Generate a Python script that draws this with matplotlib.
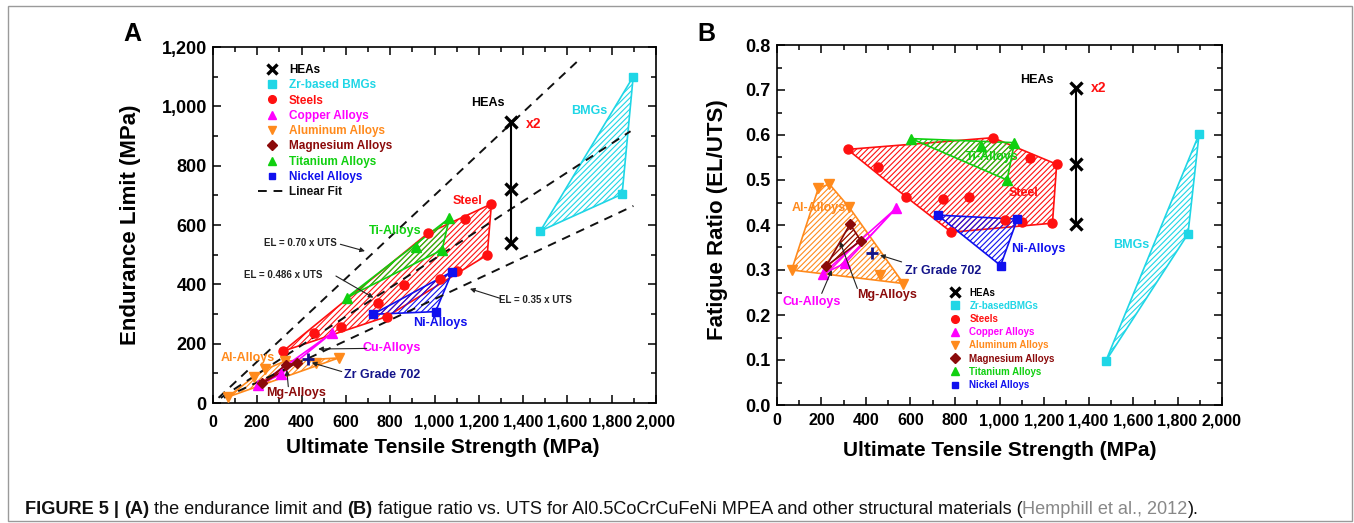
import matplotlib
matplotlib.use("Agg")
import matplotlib.pyplot as plt
from matplotlib.patches import Rectangle
from matplotlib.ticker import MultipleLocator, FuncFormatter

plt.rcParams['font.family'] = ['Liberation Sans', 'DejaVu Sans']
plt.rcParams['font.weight'] = 'bold'
plt.rcParams['hatch.linewidth'] = 0.8

# ---------------- data ----------------
steel_uts = [317, 454, 579, 744, 784, 861, 1025, 1100, 1238, 970, 1136, 1257]
steel_el = [175, 235, 257, 338, 291, 398, 418, 446, 499, 572, 619, 671]
steel_ratio = [0.568, 0.530, 0.463, 0.458, 0.384, 0.463, 0.412, 0.406, 0.404, 0.594, 0.548, 0.535]

ni_uts = [722, 1005, 1080]
ni_el = [299, 308, 443]
ni_ratio = [0.422, 0.310, 0.413]

ti_uts = [603, 915, 1034, 1067]
ti_el = [355, 525, 516, 623]
ti_ratio = [0.592, 0.575, 0.500, 0.583]

cu_uts = [205, 306, 535]
cu_el = [60, 97, 235]
cu_ratio = [0.291, 0.315, 0.437]

al_uts = [66, 186, 235, 325, 463, 568]
al_el = [20, 89, 113, 141, 134, 152]
al_ratio = [0.300, 0.482, 0.491, 0.439, 0.290, 0.270]

mg_uts = [222, 328, 377]
mg_el = [66, 128, 135]
mg_ratio = [0.309, 0.402, 0.365]

bmg_uts = [1478, 1847, 1897]
bmg_el = [580, 704, 1100]
bmg_ratio = [0.098, 0.380, 0.602]

hea_uts = [1344, 1344, 1344]
hea_el = [946, 720, 540]
hea_ratio = [0.704, 0.536, 0.402]

zr702_uts = [428]
zr702_el = [148]
zr702_ratio = [0.338]

fit_slopes = [0.70, 0.486, 0.35]
fit_uts_start = [25, 35, 50]
fit_uts_end = [1650, 1885, 1898]
fit_labels = ['EL = 0.70 x UTS', 'EL = 0.486 x UTS', 'EL = 0.35 x UTS']

legend_a = ['HEAs', 'Zr-based BMGs', 'Steels', 'Copper Alloys', 'Aluminum Alloys',
            'Magnesium Alloys', 'Titanium Alloys', 'Nickel Alloys', 'Linear Fit']
legend_b = ['HEAs', 'Zr-basedBMGs', 'Steels', 'Copper Alloys', 'Aluminum Alloys',
            'Magnesium Alloys', 'Titanium Alloys', 'Nickel Alloys']

C_HEA = 'black'
C_BMG = '#1fd6e6'
C_STEEL = '#ff1010'
C_CU = '#ff00ff'
C_AL = '#ff8a1c'
C_MG = '#8b0a0a'
C_TI = '#10d010'
C_NI = '#1010ee'
C_ZR = '#14148a'


def hull(xs, ys):
    pts = sorted(set(zip(xs, ys)))
    if len(pts) < 3:
        return [p[0] for p in pts], [p[1] for p in pts]

    def cross(o, a, b):
        return (a[0] - o[0]) * (b[1] - o[1]) - (a[1] - o[1]) * (b[0] - o[0])

    lower, upper = [], []
    for p in pts:
        while len(lower) >= 2 and cross(lower[-2], lower[-1], p) <= 0:
            lower.pop()
        lower.append(p)
    for p in reversed(pts):
        while len(upper) >= 2 and cross(upper[-2], upper[-1], p) <= 0:
            upper.pop()
        upper.append(p)
    h = lower[:-1] + upper[:-1]
    return [p[0] for p in h], [p[1] for p in h]


def region(ax, xs, ys, color):
    hx, hy = hull(xs, ys)
    ax.fill(hx, hy, facecolor='none', edgecolor=color, hatch='//////', lw=1.2, zorder=2)


fig = plt.figure(figsize=(13.54, 5.23), dpi=100)
axA = fig.add_axes([213 / 1354, 1 - 403 / 523, 443 / 1354, 356 / 523])
axB = fig.add_axes([777 / 1354, 1 - 405 / 523, 445 / 1354, 360 / 523])

fmt_comma = FuncFormatter(lambda v, p: f"{int(round(v)):,}")


def style(ax):
    ax.tick_params(which='both', direction='in', top=True, right=True, width=1.1)
    ax.tick_params(which='major', length=6)
    ax.tick_params(which='minor', length=3.5)
    ax.tick_params(axis='x', labelsize=11.5)
    ax.tick_params(axis='y', labelsize=13, pad=4.5)
    for s in ax.spines.values():
        s.set_linewidth(1.2)
    ax.xaxis.set_major_locator(MultipleLocator(200))
    ax.xaxis.set_minor_locator(MultipleLocator(100))
    ax.xaxis.set_major_formatter(fmt_comma)
    ax.set_xlim(0, 2000)


def marks(ax, yvals, ms):
    h = []
    h.append(ax.plot(hea_uts, yvals['hea'], color=C_HEA, marker='x', ms=ms * 1.3, mew=2.4, lw=1.5, zorder=5)[0])
    h.append(ax.plot(bmg_uts, yvals['bmg'], ls='none', color=C_BMG, marker='s', ms=ms * 0.95, zorder=5)[0])
    h.append(ax.plot(steel_uts, yvals['steel'], ls='none', color=C_STEEL, marker='o', ms=ms, zorder=5)[0])
    h.append(ax.plot(cu_uts, yvals['cu'], ls='none', color=C_CU, marker='^', ms=ms, zorder=5)[0])
    h.append(ax.plot(al_uts, yvals['al'], ls='none', color=C_AL, marker='v', ms=ms, zorder=5)[0])
    h.append(ax.plot(mg_uts, yvals['mg'], ls='none', color=C_MG, marker='D', ms=ms * 0.85, zorder=5)[0])
    h.append(ax.plot(ti_uts, yvals['ti'], ls='none', color=C_TI, marker='^', ms=ms, zorder=5)[0])
    h.append(ax.plot(ni_uts, yvals['ni'], ls='none', color=C_NI, marker='s', ms=ms * 0.9, zorder=5)[0])
    ax.plot(zr702_uts, yvals['zr'], ls='none', color=C_ZR, marker='+', ms=ms * 1.3, mew=2, zorder=5)
    return h


def txt(ax, x, y, s, color, size=9):
    ax.text(x, y, s, color=color, fontsize=size, fontweight='bold', ha='center', va='center', zorder=6)


def arrow(ax, start, end):
    ax.annotate('', xy=end, xytext=start,
                arrowprops=dict(arrowstyle='-|>', color='#222222', lw=0.8, mutation_scale=7,
                                shrinkA=0, shrinkB=0), zorder=6)


def color_legend(leg, handles):
    for t, h in zip(leg.get_texts(), handles):
        t.set_color(h.get_color())
        t.set_fontweight('bold')
    for lh, h in zip(leg.legend_handles, handles):
        if h.get_marker() not in (None, 'None', 'none', ''):
            lh.set_linestyle('none')


# ---------------- Panel A ----------------
style(axA)
axA.set_ylim(0, 1200)
axA.yaxis.set_major_locator(MultipleLocator(200))
axA.yaxis.set_minor_locator(MultipleLocator(100))
axA.yaxis.set_major_formatter(fmt_comma)

fit_handle = None
for k, x0, x1 in zip(fit_slopes, fit_uts_start, fit_uts_end):
    fit_handle = axA.plot([x0, x1], [k * x0, k * x1], color='#111111', lw=1.4,
                          ls=(0, (4.5, 3.5)), zorder=3)[0]

region(axA, steel_uts, steel_el, C_STEEL)
region(axA, ti_uts, ti_el, C_TI)
region(axA, ni_uts, ni_el, C_NI)
region(axA, bmg_uts, bmg_el, C_BMG)
region(axA, al_uts, al_el, C_AL)
region(axA, cu_uts, cu_el, C_CU)
region(axA, mg_uts, mg_el, C_MG)

hA = marks(axA, dict(hea=hea_el, bmg=bmg_el, steel=steel_el, cu=cu_el, al=al_el, mg=mg_el,
                     ti=ti_el, ni=ni_el, zr=zr702_el), 6.5)

txt(axA, 1242, 1012, 'HEAs', 'black')
txt(axA, 1449, 940, 'x2', C_STEEL, 10)
txt(axA, 1698, 985, 'BMGs', C_BMG)
txt(axA, 1151, 682, 'Steel', C_STEEL)
txt(axA, 822, 580, 'Ti-Alloys', C_TI)
txt(axA, 1028, 271, 'Ni-Alloys', C_NI)
txt(axA, 807, 184, 'Cu-Alloys', C_CU)
txt(axA, 159, 153, 'Al-Alloys', C_AL)
txt(axA, 762, 94, 'Zr Grade 702', C_ZR)
txt(axA, 375, 33, 'Mg-Alloys', C_MG)
txt(axA, 393, 538, fit_labels[0], '#222222', 7)
txt(axA, 317, 431, fit_labels[1], '#222222', 7)
txt(axA, 1454, 347, fit_labels[2], '#222222', 7)

arrow(axA, (575, 535), (686, 512))
arrow(axA, (555, 428), (724, 355))
arrow(axA, (1300, 352), (1160, 385))
arrow(axA, (694, 184), (475, 182))
arrow(axA, (581, 106), (446, 136))
arrow(axA, (340, 55), (333, 111))

handlesA = hA + [fit_handle]
legA = axA.legend(handlesA, legend_a, loc='upper left', bbox_to_anchor=(0.1016, 0.9525),
                  frameon=False, fontsize=8.5, handlelength=2.45, handletextpad=0.17,
                  labelspacing=0.28, borderpad=0, borderaxespad=0, markerscale=0.85)
color_legend(legA, handlesA)

axA.set_xlabel('Ultimate Tensile Strength (MPa)', fontsize=15, fontweight='bold')
axA.xaxis.set_label_coords(0.519, -0.126)
axA.xaxis.label.set_va('center')
axA.set_ylabel('Endurance Limit (MPa)', fontsize=16, fontweight='bold')
axA.yaxis.set_label_coords(-0.187, 0.5)
axA.yaxis.label.set_va('center')
axA.tick_params(axis='x', pad=8.5)

# ---------------- Panel B ----------------
style(axB)
axB.set_ylim(0, 0.8)
axB.yaxis.set_major_locator(MultipleLocator(0.1))
axB.yaxis.set_minor_locator(MultipleLocator(0.05))
axB.yaxis.set_major_formatter(FuncFormatter(lambda v, p: f"{v:.1f}"))
axB.tick_params(axis='x', pad=6)

region(axB, steel_uts, steel_ratio, C_STEEL)
region(axB, ti_uts, ti_ratio, C_TI)
region(axB, ni_uts, ni_ratio, C_NI)
region(axB, bmg_uts, bmg_ratio, C_BMG)
region(axB, al_uts, al_ratio, C_AL)
region(axB, cu_uts, cu_ratio, C_CU)
region(axB, mg_uts, mg_ratio, C_MG)

hB = marks(axB, dict(hea=hea_ratio, bmg=bmg_ratio, steel=steel_ratio, cu=cu_ratio, al=al_ratio,
                     mg=mg_ratio, ti=ti_ratio, ni=ni_ratio, zr=zr702_ratio), 6.5)

txt(axB, 1170, 0.722, 'HEAs', 'black')
txt(axB, 1444, 0.704, 'x2', C_STEEL, 10)
txt(axB, 965, 0.552, 'Ti-Alloys', C_TI)
txt(axB, 1110, 0.472, 'Steel', C_STEEL)
txt(axB, 186, 0.438, 'Al-Alloys', C_AL)
txt(axB, 1174, 0.346, 'Ni-Alloys', C_NI)
txt(axB, 1594, 0.356, 'BMGs', C_BMG)
txt(axB, 745, 0.298, 'Zr Grade 702', C_ZR)
txt(axB, 493, 0.244, 'Mg-Alloys', C_MG)
txt(axB, 156, 0.230, 'Cu-Alloys', C_CU)

arrow(axB, (560, 0.318), (463, 0.333))
arrow(axB, (361, 0.259), (283, 0.363))
arrow(axB, (201, 0.248), (246, 0.300))

legB = axB.legend(hB, legend_b, loc='upper left', bbox_to_anchor=(0.382, 0.326),
                  frameon=False, fontsize=7, handlelength=1.6, handletextpad=0.7,
                  labelspacing=0.33, borderpad=0, borderaxespad=0, markerscale=0.85)
color_legend(legB, hB)

axB.set_xlabel('Ultimate Tensile Strength (MPa)', fontsize=15, fontweight='bold')
axB.xaxis.set_label_coords(0.501, -0.125)
axB.xaxis.label.set_va('center')
axB.set_ylabel('Fatigue Ratio (EL/UTS)', fontsize=16, fontweight='bold')
axB.yaxis.set_label_coords(-0.133, 0.514)
axB.yaxis.label.set_va('center')

# panel letters
fig.text(132 / 1354, 1 - 34 / 523, 'A', fontsize=18, fontweight='bold', ha='center', va='center')
fig.text(706 / 1354, 1 - 34 / 523, 'B', fontsize=18, fontweight='bold', ha='center', va='center')

# frame
fig.patches.append(Rectangle((8 / 1354, 1 - 521 / 523), 1344 / 1354, 515 / 523, transform=fig.transFigure,
                             fill=False, edgecolor='#9a9a9a', lw=1.0))

# caption
pieces = [("FIGURE 5 | ", 'bold', '#111111'), ("(A)", 'bold', '#111111'),
          (" the endurance limit and ", 'normal', '#111111'), ("(B)", 'bold', '#111111'),
          (" fatigue ratio vs. UTS for Al0.5CoCrCuFeNi MPEA and other structural materials (", 'normal', '#111111'),
          ("Hemphill et al., 2012", 'normal', '#888888'), (").", 'normal', '#111111')]
renderer = fig.canvas.get_renderer()
target_w = 1172.0
size = 11.0
for _ in range(2):
    arts = []
    x = 25.0
    for s, w, c in pieces:
        t = fig.text(x / 1354, 1 - 514 / 523, s, fontsize=size, fontweight=w, color=c,
                     ha='left', va='baseline')
        bb = t.get_window_extent(renderer)
        x += bb.width
        arts.append(t)
    total = x - 25.0
    if _ == 0:
        for a in arts:
            a.remove()
        size = size * target_w / total

fig.savefig('out.png', dpi=100)
